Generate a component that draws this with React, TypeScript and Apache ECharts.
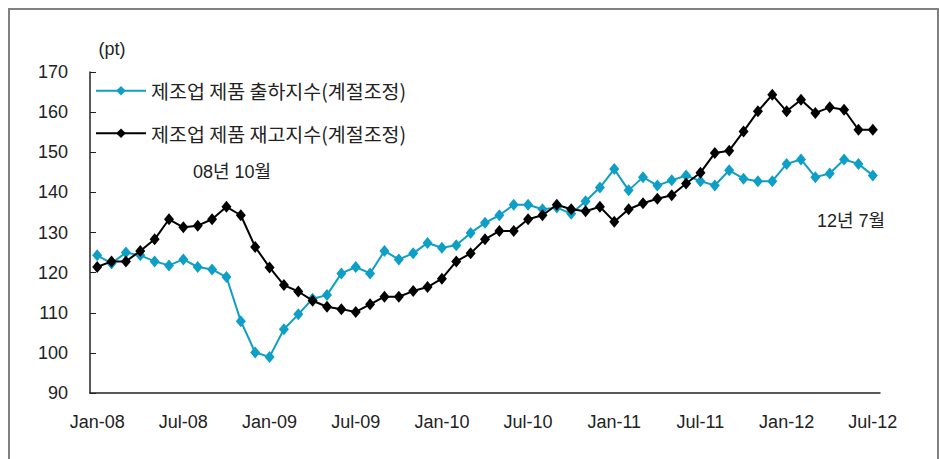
import React, { useEffect, useRef } from "react";
import * as echarts from "echarts";

const MONTH_NAMES = ["Jan", "Feb", "Mar", "Apr", "May", "Jun", "Jul", "Aug", "Sep", "Oct", "Nov", "Dec"];
const YEARS = ["08", "09", "10", "11", "12"];
const LAST_MONTH_2012 = 7;

const categories: string[] = [];
YEARS.forEach((y, yi) => {
  const count = yi === YEARS.length - 1 ? LAST_MONTH_2012 : 12;
  for (let m = 0; m < count; m++) categories.push(`${MONTH_NAMES[m]}-${y}`);
});

const seriesNames = ["제조업 제품 출하지수(계절조정)", "제조업 제품 재고지수(계절조정)"];

const shipmentIndex = [
  124.3, 122.3, 125.0, 124.3, 122.8, 121.8, 123.3, 121.4, 120.8, 118.9, 107.9, 100.1,
  99.0, 105.9, 109.6, 113.5, 114.4, 119.8, 121.4, 119.8, 125.4, 123.3, 124.8, 127.4,
  126.2, 126.8, 129.9, 132.4, 134.3, 136.9, 136.9, 135.8, 136.2, 134.7, 137.8, 141.2,
  145.8, 140.5, 143.8, 141.7, 143.0, 144.2, 142.8, 141.7, 145.5, 143.4, 142.8, 142.8,
  147.1, 148.2, 143.8, 144.7, 148.2, 147.1, 144.2,
];

const inventoryIndex = [
  121.4, 122.8, 122.8, 125.4, 128.3, 133.3, 131.3, 131.7, 133.3, 136.4, 134.3, 126.4,
  121.3, 116.9, 115.3, 113.0, 111.5, 110.9, 110.2, 112.1, 114.0, 114.0, 115.4, 116.4,
  118.5, 122.8, 124.8, 128.3, 130.4, 130.4, 133.3, 134.3, 136.9, 135.8, 135.3, 136.4,
  132.7, 135.8, 137.3, 138.4, 139.3, 142.2, 144.9, 149.8, 150.4, 155.2, 160.2, 164.3,
  160.2, 163.1, 159.8, 161.2, 160.6, 155.6, 155.6,
];

const annotations = ["08년 10월", "12년 7월"];
const unitLabel = "(pt)";

const BLUE = "#0e9fc6";
const BLACK = "#000000";
const TEXT = "#222222";
const FONT = "'Liberation Sans', 'Noto Sans CJK KR', sans-serif";

export default function App() {
  const ref = useRef<HTMLDivElement>(null);
  useEffect(() => {
    document.body.style.margin = "0";
    const chart = echarts.init(ref.current!, null, { renderer: "svg" });
    chart.setOption({
      animation: false,
      backgroundColor: "#ffffff",
      grid: { left: 90, right: 59, top: 72, bottom: 66, containLabel: false },
      legend: {
        orient: "vertical",
        left: 95,
        top: 81,
        padding: 0,
        itemWidth: 50,
        itemHeight: 12,
        itemGap: 23,
        textStyle: { fontSize: 19.5, color: TEXT, fontFamily: "'Noto Sans CJK KR', sans-serif" },
        data: seriesNames,
      },
      xAxis: {
        type: "category",
        data: categories,
        boundaryGap: true,
        axisLine: { lineStyle: { color: TEXT, width: 1.5 } },
        axisTick: { inside: true, length: 6, interval: 2, lineStyle: { color: TEXT, width: 1 } },
        axisLabel: {
          interval: 5,
          margin: 20,
          fontSize: 18,
          color: TEXT,
          fontFamily: FONT,
        },
        splitLine: { show: false },
      },
      yAxis: {
        type: "value",
        min: 90,
        max: 170,
        interval: 10,
        axisLine: { show: true, lineStyle: { color: TEXT, width: 1.5 } },
        axisTick: { show: true, inside: true, length: 6, lineStyle: { color: TEXT, width: 1 } },
        axisLabel: { margin: 22, fontSize: 18, color: TEXT, fontFamily: FONT },
        splitLine: { show: false },
      },
      series: [
        {
          name: seriesNames[0],
          type: "line",
          data: shipmentIndex,
          symbol: "diamond",
          symbolSize: [10, 12],
          showAllSymbol: true,
          itemStyle: { color: BLUE },
          lineStyle: { color: BLUE, width: 2 },
          z: 2,
        },
        {
          name: seriesNames[1],
          type: "line",
          data: inventoryIndex,
          symbol: "diamond",
          symbolSize: [10, 12],
          showAllSymbol: true,
          itemStyle: { color: BLACK },
          lineStyle: { color: BLACK, width: 2 },
          z: 3,
        },
      ],
      graphic: [
        {
          type: "rect",
          shape: { x: 9, y: 9, width: 929, height: 480 },
          style: { fill: "none", stroke: "#808080", lineWidth: 2 },
          silent: true,
        },
        {
          type: "text",
          x: 112,
          y: 49,
          style: { text: unitLabel, fontSize: 18, fill: TEXT, fontFamily: FONT, align: "center", verticalAlign: "middle" },
        },
        {
          type: "text",
          x: 232,
          y: 172,
          style: { text: annotations[0], fontSize: 18, fill: TEXT, fontFamily: FONT, align: "center", verticalAlign: "middle" },
        },
        {
          type: "text",
          x: 851,
          y: 221,
          style: { text: annotations[1], fontSize: 18, fill: TEXT, fontFamily: FONT, align: "center", verticalAlign: "middle" },
        },
      ],
    });
    return () => chart.dispose();
  }, []);
  return <div ref={ref} style={{ width: 939, height: 459 }} />;
}
